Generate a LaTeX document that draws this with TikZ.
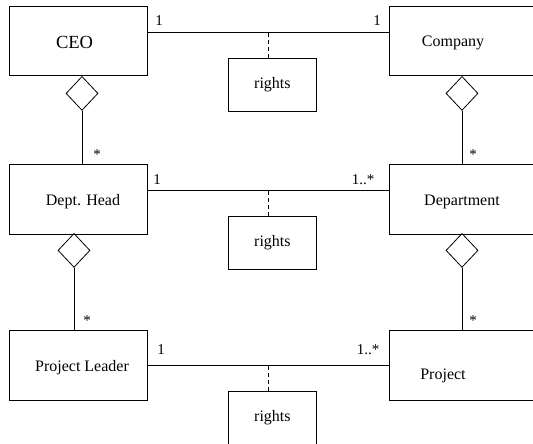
\documentclass[tikz,border=0pt]{standalone}
\usepackage{fontspec}
\setmainfont{Liberation Serif}
\usetikzlibrary{shapes.geometric}
\begin{document}
\begin{tikzpicture}[x=1pt,y=-1pt, line width=0.8pt,
  box/.style={draw, minimum width=138pt, minimum height=69.5pt, inner sep=0pt, anchor=north west},
  rbox/.style={box, minimum width=170pt},
  rightsbox/.style={draw, minimum width=88pt, minimum height=52.5pt, inner sep=0pt, anchor=north west, font=\fontsize{16}{18}\selectfont},
  agg/.style={diamond, draw, minimum width=32pt, minimum height=34pt, inner sep=0pt, anchor=north},
  big/.style={anchor=base, inner sep=0pt, font=\fontsize{18.5}{20}\selectfont},
  txt/.style={anchor=base, inner sep=0pt, font=\fontsize{16}{18}\selectfont},
  mult/.style={anchor=base, inner sep=0pt, font=\fontsize{15}{17}\selectfont},
  dashline/.style={dash pattern=on 4pt off 3pt}]
\useasboundingbox (0,0) rectangle (533,444);
\clip (0,0) rectangle (533,444);
\fill[white] (0,0) rectangle (533,444);

% class boxes
\node[box]  (ceo)        at (9,6)    {};
\node[rbox] (company)    at (389,6)  {};
\node[box]  (dept)       at (9,164)  {};
\node[rbox] (department) at (389,164) {};
\node[box]  (pl)         at (9,330)  {};
\node[rbox] (project)    at (389,330) {};

% class names
\node[big] (ceot)        at (74.5,48.3) {CEO};
\node[txt] (companyt)    at (453,46.7)  {Company};
\node[txt] (deptt)       at (83,205)    {Dept. Head};
\node[txt] (departmentt) at (462,205)   {Department};
\node[txt] (plt)         at (82,371.7)  {Project Leader};
\node[txt] (projectt)    at (443,379.3) {Project};

% association classes
\node[rightsbox] (r1) at (228,58)  {rights};
\node[rightsbox] (r2) at (228,216) {rights};
\node[rightsbox] (r3) at (228,391) {rights};

% associations
\draw ([yshift=-26pt]ceo.north east)  -- ([yshift=-26pt]company.north west);
\draw ([yshift=-26pt]dept.north east) -- ([yshift=-26pt]department.north west);
\draw ([yshift=-35pt]pl.north east)   -- ([yshift=-35pt]project.north west);

\draw[dashline] ([xshift=-4pt]r1.north) -- ++(0,-26);
\draw[dashline] ([xshift=-4pt]r2.north) -- ++(0,-26);
\draw[dashline] ([xshift=-4pt]r3.north) -- ++(0,-26);

% aggregations
\node[agg] (a1) at (82,76)   {};
\node[agg] (a2) at (462,76)  {};
\node[agg] (a3) at (74,233)  {};
\node[agg] (a4) at (462,233) {};
\draw (a1.south) -- (a1.south |- dept.north);
\draw (a2.south) -- (a2.south |- department.north);
\draw (a3.south) -- (a3.south |- pl.north);
\draw (a4.south) -- (a4.south |- project.north);

% multiplicities
\node[mult] (m1) at (159,26)  {1};
\node[mult] (m2) at (377,26)  {1};
\node[mult] (m3) at (157,184) {1};
\node[mult] (m4) at (363,184) {1..*};
\node[mult] (m5) at (161,354) {1};
\node[mult] (m6) at (368,354) {1..*};
\node[mult] (s1) at (97,159)  {*};
\node[mult] (s2) at (473,159) {*};
\node[mult] (s3) at (87,325)  {*};
\node[mult] (s4) at (473,325) {*};
\end{tikzpicture}
\end{document}
